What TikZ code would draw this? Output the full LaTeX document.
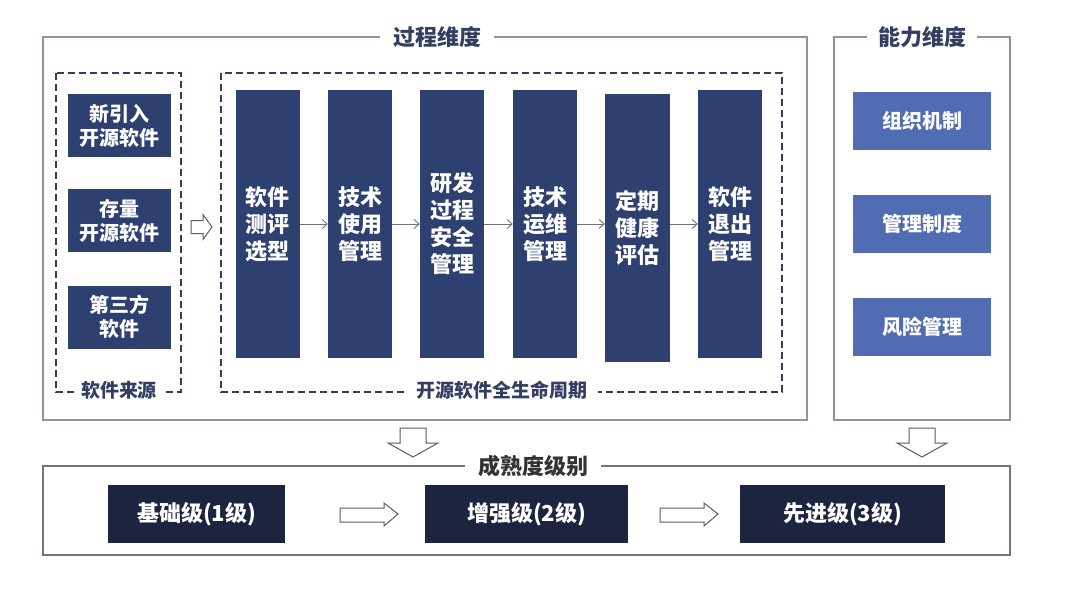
\documentclass[tikz,border=0pt]{standalone}
\usepackage{fontspec}
\setmainfont{Noto Sans CJK SC}
\usetikzlibrary{arrows.meta}
\definecolor{colblue}{RGB}{46,64,112}
\definecolor{abiblue}{RGB}{80,108,178}
\definecolor{navy}{RGB}{28,36,64}
\definecolor{titlec}{RGB}{52,62,98}
\definecolor{framec}{RGB}{140,148,168}
\definecolor{dashc}{RGB}{50,60,92}
\definecolor{arrc}{RGB}{110,115,130}
\tikzset{
  frame/.style={draw=framec, line width=1.3pt},
  dashbox/.style={draw=dashc, line width=1.8pt, dash pattern=on 7pt off 4pt},
  title/.style={fill=white, text=titlec, font=\bfseries\fontsize{22}{26}\selectfont, inner xsep=13pt, inner ysep=2pt},
  sublabel/.style={fill=white, text=titlec, font=\bfseries\fontsize{19}{23}\selectfont, inner xsep=7pt, inner ysep=1pt},
  srcbox/.style={fill=colblue, text=white, minimum width=103pt, minimum height=63pt, inner sep=0pt, align=center, font=\bfseries\fontsize{20}{24}\selectfont},
  colbox/.style={fill=colblue, text=white, minimum width=64pt, minimum height=268pt, inner sep=0pt, align=center, font=\bfseries\fontsize{22}{27}\selectfont},
  abibox/.style={fill=abiblue, text=white, minimum width=138pt, minimum height=58pt, inner sep=0pt, font=\bfseries\fontsize{20}{24}\selectfont},
  levbox/.style={fill=navy, text=white, minimum height=58pt, inner sep=0pt, font=\bfseries\fontsize{22}{26}\selectfont},
  flow/.style={draw=arrc, line width=0.9pt, -{Straight Barb[length=5pt,width=9pt]}},
  blockarrow/.style={draw=arrc!80!black, line width=1pt, fill=white, line join=miter},
}
\begin{document}
\begin{tikzpicture}[x=1pt,y=-1pt]
\useasboundingbox[fill=white] (0,0) rectangle (1080,608);

% frames
\draw[frame] (43,37) rectangle (807,420);
\draw[frame] (834,37) rectangle (1010,420);
\draw[frame, draw=framec!80!black] (43,466) rectangle (1010,555);
\node[title] (tproc) at (437,37) {过程维度};
\node[title, inner xsep=11pt] (tabi) at (922,37) {能力维度};
\node[title, text=black!80] (tmat) at (533,466) {成熟度级别};

% dashed boxes
\draw[dashbox] (56,73) rectangle (181,392);
\draw[dashbox] (221,73) rectangle (782,392);
\node[sublabel] (lsrc) at (119,390) {软件来源};
\node[sublabel, inner xsep=10pt] (llife) at (502,390) {开源软件全生命周期};

% sources
\node[srcbox] (s1) at (119.5,125.5) {新引入\\开源软件};
\node[srcbox] (s2) at (119.5,220.5) {存量\\开源软件};
\node[srcbox] (s3) at (119.5,317) {第三方\\软件};

% hollow arrow source -> lifecycle
\coordinate (ha) at (201,227);
\draw[blockarrow] ([shift={(-10,-6.5)}]ha) -- ++(12,0) -- ++(0,-6) -- ++(9,12.5) -- ++(-9,12.5) -- ++(0,-6) -- ++(-12,0) -- cycle;

% lifecycle columns
\node[colbox] (c1) at (267.5,224) {软件\\测评\\选型};
\node[colbox] (c2) at (360,224) {技术\\使用\\管理};
\node[colbox] (c3) at (452,224) {研发\\过程\\安全\\管理};
\node[colbox] (c4) at (545,224) {技术\\运维\\管理};
\node[colbox, minimum width=65pt] (c5) at (637.5,228) {定期\\健康\\评估};
\node[colbox] (c6) at (730,224) {软件\\退出\\管理};
\draw[flow] (c1.east |- 0,224) -- (c2.west |- 0,224);
\draw[flow] (c2.east |- 0,224) -- (c3.west |- 0,224);
\draw[flow] (c3.east |- 0,224) -- (c4.west |- 0,224);
\draw[flow] (c4.east |- 0,224) -- (c5.west |- 0,224);
\draw[flow] (c5.east |- 0,224) -- (c6.west |- 0,224);

% ability
\node[abibox] (a1) at (922,121) {组织机制};
\node[abibox] (a2) at (922,224) {管理制度};
\node[abibox] (a3) at (922,327) {风险管理};

% down arrows
\coordinate (d1) at (413,428);
\coordinate (d2) at (922,428);
\foreach \c in {d1,d2}{
  \draw[blockarrow] ([shift={(-13,0)}]\c) -- ++(26,0) -- ++(0,15) -- ++(12,0) -- ++(-25,14) -- ++(-25,-14) -- ++(12,0) -- cycle;
}

% maturity levels
\node[levbox, minimum width=177pt] (m1) at (196.5,514) {基础级(1级)};
\node[levbox, minimum width=203pt] (m2) at (526.5,514) {增强级(2级)};
\node[levbox, minimum width=205pt] (m3) at (842.5,514) {先进级(3级)};
\coordinate (r1) at (340,508);
\coordinate (r2) at (660,508);
\foreach \c in {r1,r2}{
  \draw[blockarrow] (\c) -- ++(44,0) -- ++(0,-5) -- ++(14,11) -- ++(-14,12) -- ++(0,-4) -- ++(-44,0) -- cycle;
}
\end{tikzpicture}
\end{document}
